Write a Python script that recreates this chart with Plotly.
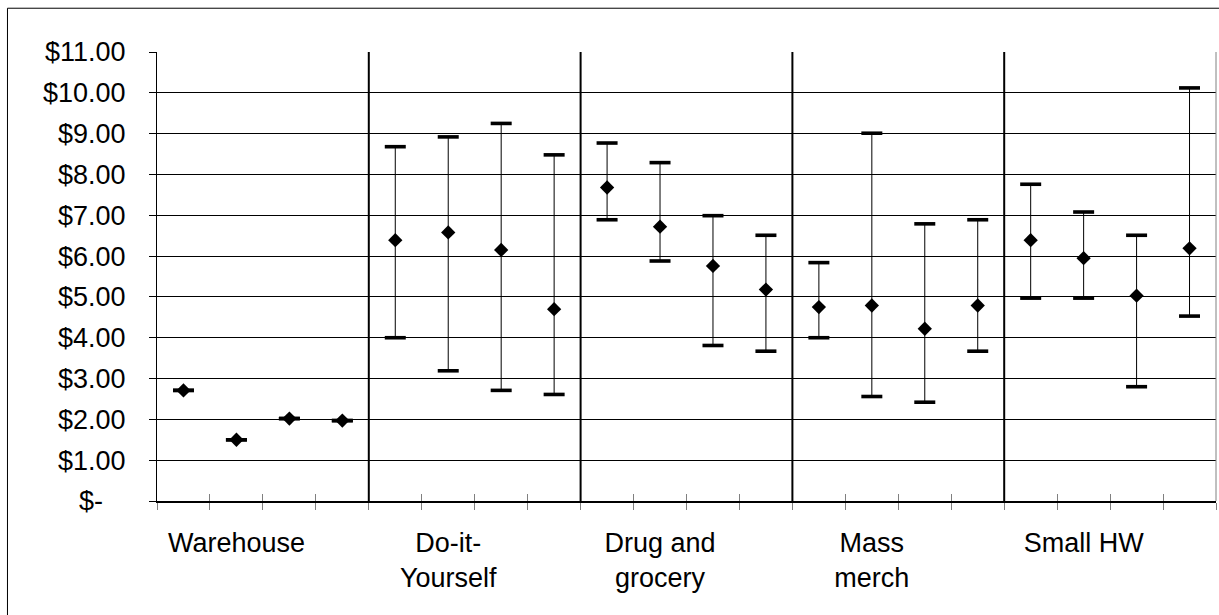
import plotly.graph_objects as go

# Channel groups, four price points each
channels = ["Warehouse", "Do-it-<br>Yourself", "Drug and<br>grocery", "Mass<br>merch", "Small HW"]
per_group = 4

# Average price and low/high range for each of the 20 items
means = [2.71, 1.50, 2.02, 1.97,
         6.39, 6.58, 6.15, 4.70,
         7.68, 6.72, 5.76, 5.18,
         4.75, 4.79, 4.22, 4.79,
         6.39, 5.95, 5.03, 6.19]
lows = [2.71, 1.50, 2.02, 1.97,
        4.00, 3.19, 2.71, 2.61,
        6.89, 5.88, 3.81, 3.67,
        4.00, 2.56, 2.42, 3.67,
        4.97, 4.97, 2.80, 4.53]
highs = [2.71, 1.50, 2.02, 1.97,
         8.68, 8.92, 9.25, 8.48,
         8.77, 8.29, 6.99, 6.51,
         5.84, 9.01, 6.79, 6.89,
         7.76, 7.08, 6.51, 10.12]

y_ticks = list(range(0, 12))
y_labels = ["$-\u00a0\u00a0\u00a0"] + [f"${v:.2f}" for v in y_ticks[1:]]

n = len(means)
xs = list(range(n))
boundaries = [i - 0.5 for i in range(n + 1)]
group_edges = [g * per_group - 0.5 for g in range(1, len(channels))]
label_pos = [g * per_group + 1 for g in range(len(channels))]

FONT = "Liberation Sans, Arial, sans-serif"

fig = go.Figure()

# Range whiskers
fig.add_trace(go.Scatter(
    x=xs, y=means, mode="markers",
    marker=dict(size=1, color="rgba(0,0,0,0)"),
    error_y=dict(type="data", symmetric=False,
                 array=[h - m for h, m in zip(highs, means)],
                 arrayminus=[m - l for m, l in zip(means, lows)],
                 width=0, thickness=1, color="black"),
    showlegend=False, hoverinfo="skip"))

# Caps at the high and low ends
fig.add_trace(go.Scatter(
    x=xs + xs, y=highs + lows, mode="markers",
    marker=dict(symbol="line-ew", size=15, line=dict(width=3.6, color="black")),
    showlegend=False, hoverinfo="skip"))

# Average price diamonds
fig.add_trace(go.Scatter(
    x=xs, y=means, mode="markers",
    marker=dict(symbol="diamond", size=11, color="black", line=dict(width=0)),
    showlegend=False))

# Category labels on an overlaid axis
fig.add_trace(go.Scatter(x=[label_pos[0]], y=[None], xaxis="x3", showlegend=False, hoverinfo="skip"))
# Inward half of the crossing tick marks
fig.add_trace(go.Scatter(x=[0], y=[None], xaxis="x2", showlegend=False, hoverinfo="skip"))

# Vertical separators between channel groups
for e in group_edges:
    fig.add_shape(type="line", xref="x", yref="paper", x0=e, x1=e, y0=0, y1=1,
                  line=dict(color="black", width=2), layer="above")

# Right edge of the plotting area
fig.add_shape(type="line", xref="paper", yref="paper", x0=1, x1=1, y0=0, y1=1,
              line=dict(color="#808080", width=1), layer="above")

# Outer chart frame
fig.add_shape(type="rect", xref="paper", yref="paper",
              x0=-0.1412, x1=1.02, y0=-0.3, y1=1.0975,
              line=dict(color="black", width=1), fillcolor="rgba(0,0,0,0)", layer="below")

xr = [-0.5, n - 0.5]
fig.update_layout(
    width=1219, height=615,
    margin=dict(l=157, r=3, t=52, b=114, autoexpand=False),
    paper_bgcolor="white", plot_bgcolor="white",
    font=dict(family=FONT, size=27, color="black"),
    xaxis=dict(range=xr, tickmode="array", tickvals=boundaries, showticklabels=False,
               ticks="outside", ticklen=7, tickwidth=1, tickcolor="#808080",
               showgrid=False, zeroline=False, showline=True, linecolor="black", linewidth=2),
    xaxis2=dict(range=xr, overlaying="x", anchor="y", side="bottom", tickmode="array",
                tickvals=boundaries, showticklabels=False, ticks="inside", ticklen=7,
                tickwidth=1, tickcolor="#808080", showgrid=False, zeroline=False, showline=False),
    xaxis3=dict(range=xr, overlaying="x", anchor="y", side="bottom", tickmode="array",
                tickvals=label_pos, ticktext=channels, ticks="", showgrid=False,
                zeroline=False, showline=False, ticklabelstandoff=23,
                tickfont=dict(family=FONT, size=27, color="black")),
    yaxis=dict(range=[0, 11], tickmode="array", tickvals=y_ticks, ticktext=y_labels,
               ticks="outside", ticklen=7, tickwidth=1, tickcolor="black",
               showgrid=True, gridcolor="black", gridwidth=1, zeroline=False,
               showline=True, linecolor="black", linewidth=1,
               ticklabelstandoff=18, tickfont=dict(family=FONT, size=27, color="black")),
)

fig.write_html("out.html")
